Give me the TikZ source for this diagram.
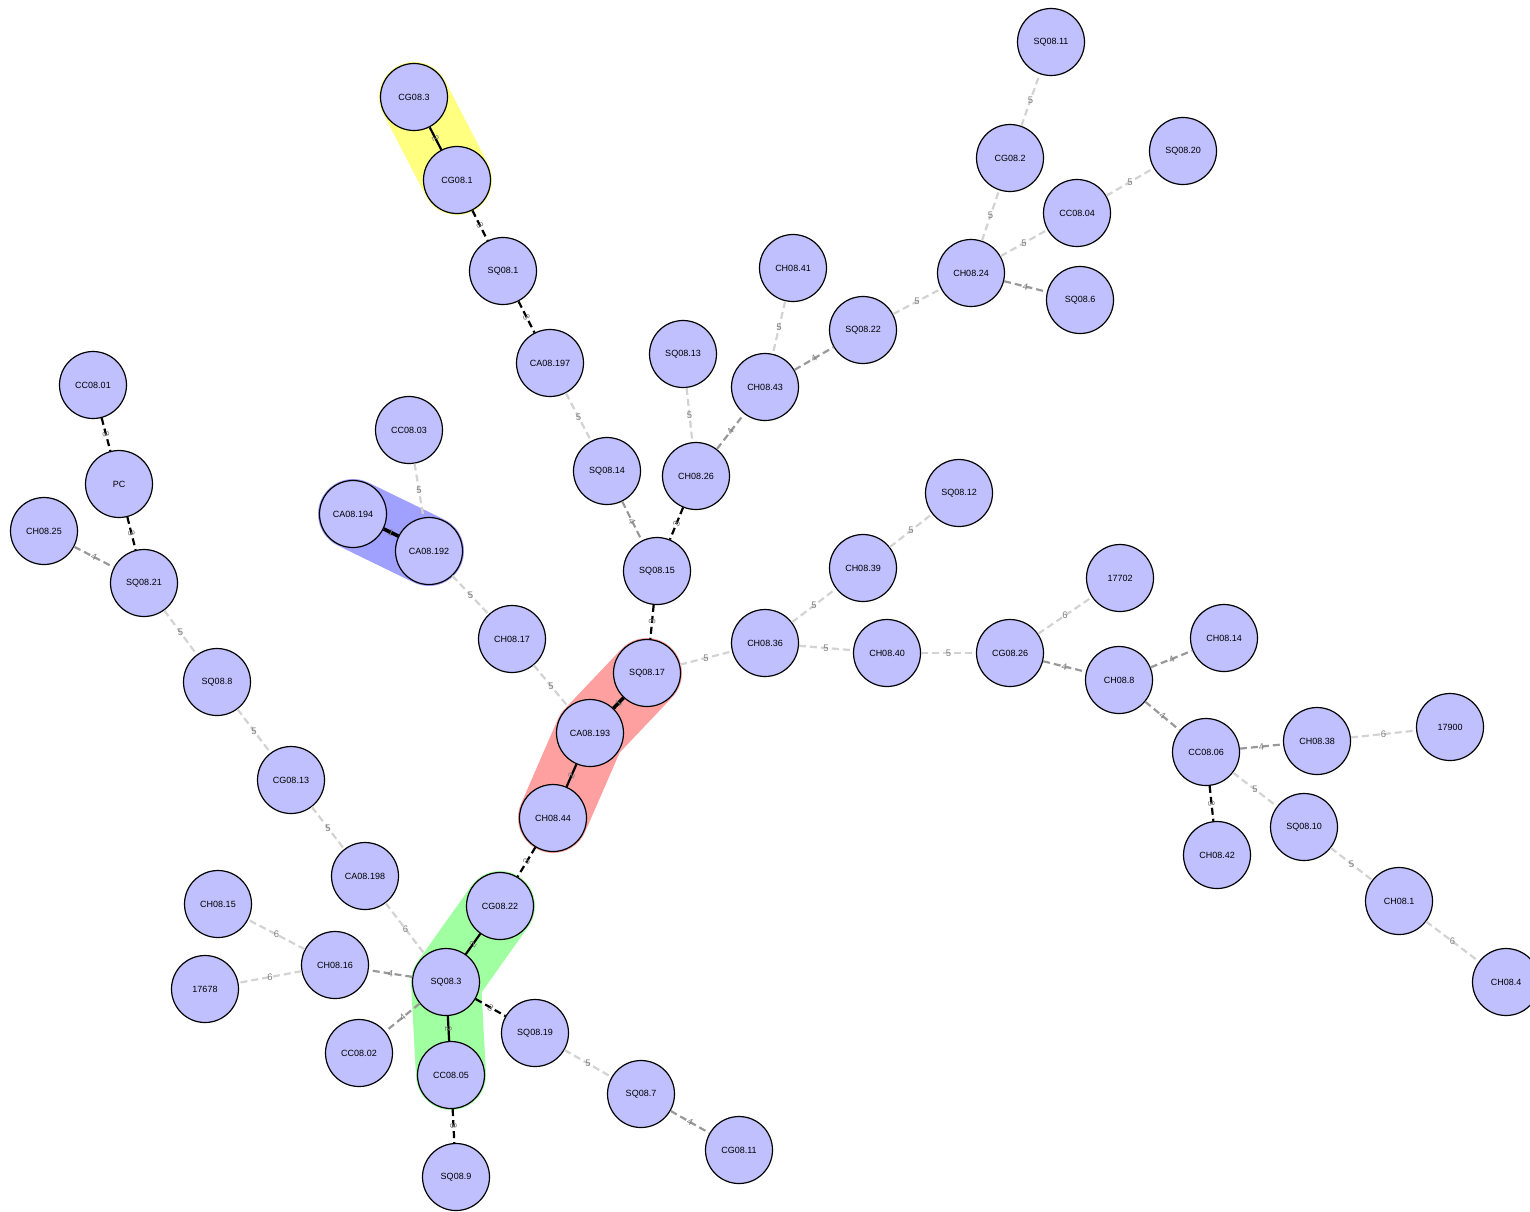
\documentclass[tikz,border=0pt]{standalone}
\usepackage{fontspec}
\setmainfont{Liberation Sans}
\pgfdeclarelayer{background}
\pgfsetlayers{background,main}
\definecolor{nodefill}{RGB}{192,192,255}
\definecolor{hullY}{RGB}{255,255,128}
\definecolor{hullB}{RGB}{160,160,255}
\definecolor{hullR}{RGB}{255,160,160}
\definecolor{hullG}{RGB}{160,255,160}
\definecolor{edgeMid}{RGB}{153,153,153}
\definecolor{edgeLight}{RGB}{211,211,211}
\definecolor{lblcol}{RGB}{128,128,128}
\tikzset{
  nd/.style={circle, draw=black, line width=1.2pt, fill=nodefill, minimum size=67pt, inner sep=0pt, font=\fontsize{9}{10}\selectfont},
  dsh/.style={dash pattern=on 7pt off 4pt},
  e1/.style={draw=black, line width=3.6pt},
  e2/.style={draw=black, line width=2.2pt},
  e3/.style={draw=black, line width=2.2pt, dsh},
  e4/.style={draw=edgeMid, line width=2.2pt, dsh},
  e5/.style={draw=edgeLight, line width=2.2pt, dsh},
  lbl/.style={font=\fontsize{9.5}{10}\selectfont, text=lblcol, inner sep=0pt, midway},
  slbl/.style={lbl, sloped},
  hull/.style={line width=70pt, line cap=round, line join=round},
}
\begin{document}
\begin{tikzpicture}[x=1pt, y=-1pt]
\useasboundingbox (0,0) rectangle (1530,1211);
\clip (0,0) rectangle (1530,1211);
% nodes
\node[nd] (SQ08-11) at (1051,42) {SQ08.11};
\node[nd] (CG08-3) at (414,97) {CG08.3};
\node[nd] (CG08-1) at (457,180) {CG08.1};
\node[nd] (SQ08-20) at (1183,151) {SQ08.20};
\node[nd] (CG08-2) at (1010,158) {CG08.2};
\node[nd] (CC08-04) at (1077,213) {CC08.04};
\node[nd] (SQ08-1) at (503,271) {SQ08.1};
\node[nd] (CH08-41) at (793,268) {CH08.41};
\node[nd] (CH08-24) at (971,273) {CH08.24};
\node[nd] (SQ08-6) at (1080,300) {SQ08.6};
\node[nd] (SQ08-22) at (863,330) {SQ08.22};
\node[nd] (SQ08-13) at (683,354) {SQ08.13};
\node[nd] (CA08-197) at (550,363) {CA08.197};
\node[nd] (CH08-43) at (765,387) {CH08.43};
\node[nd] (CC08-01) at (93,385) {CC08.01};
\node[nd] (CC08-03) at (409,430) {CC08.03};
\node[nd] (SQ08-14) at (607,471) {SQ08.14};
\node[nd] (CH08-26) at (696,476) {CH08.26};
\node[nd] (PC) at (119,484) {PC};
\node[nd] (SQ08-12) at (959,493) {SQ08.12};
\node[nd] (CA08-194) at (353,514) {CA08.194};
\node[nd] (CH08-25) at (44,531) {CH08.25};
\node[nd] (CA08-192) at (429,551) {CA08.192};
\node[nd] (SQ08-21) at (144,583) {SQ08.21};
\node[nd] (SQ08-15) at (657,571) {SQ08.15};
\node[nd] (CH08-39) at (863,568) {CH08.39};
\node[nd] (n17702) at (1120,578) {17702};
\node[nd] (CH08-17) at (512,639) {CH08.17};
\node[nd] (CH08-36) at (765,643) {CH08.36};
\node[nd] (CH08-14) at (1224,638) {CH08.14};
\node[nd] (CH08-40) at (887,653) {CH08.40};
\node[nd] (CG08-26) at (1010,653) {CG08.26};
\node[nd] (SQ08-17) at (647,673) {SQ08.17};
\node[nd] (CH08-8) at (1119,680) {CH08.8};
\node[nd] (SQ08-8) at (217,682) {SQ08.8};
\node[nd] (CA08-193) at (590,733) {CA08.193};
\node[nd] (n17900) at (1450,727) {17900};
\node[nd] (CC08-06) at (1206,752) {CC08.06};
\node[nd] (CH08-38) at (1317,741) {CH08.38};
\node[nd] (CG08-13) at (291,780) {CG08.13};
\node[nd] (CH08-44) at (553,818) {CH08.44};
\node[nd] (SQ08-10) at (1304,827) {SQ08.10};
\node[nd] (CH08-42) at (1217,855) {CH08.42};
\node[nd] (CA08-198) at (365,876) {CA08.198};
\node[nd] (CG08-22) at (500,906) {CG08.22};
\node[nd] (CH08-1) at (1399,901) {CH08.1};
\node[nd] (CH08-15) at (218,904) {CH08.15};
\node[nd] (CH08-16) at (335,965) {CH08.16};
\node[nd] (n17678) at (205,989) {17678};
\node[nd] (SQ08-3) at (446,982) {SQ08.3};
\node[nd] (CH08-4) at (1506,982) {CH08.4};
\node[nd] (SQ08-19) at (535,1033) {SQ08.19};
\node[nd] (CC08-02) at (359,1053) {CC08.02};
\node[nd] (CC08-05) at (451,1075) {CC08.05};
\node[nd] (SQ08-7) at (641,1094) {SQ08.7};
\node[nd] (CG08-11) at (739,1150) {CG08.11};
\node[nd] (SQ08-9) at (456,1177) {SQ08.9};
% hulls
\begin{pgfonlayer}{background}
\draw[hull, hullY] (CG08-3.center) -- (CG08-1.center);
\draw[hull, hullB] (CA08-194.center) -- (CA08-192.center);
\draw[hull, hullR] (SQ08-17.center) -- (CA08-193.center) -- (CH08-44.center);
\draw[hull, hullG] (CG08-22.center) -- (SQ08-3.center) -- (CC08-05.center);
\end{pgfonlayer}
% edges
\draw[e2] (CG08-3) -- node[slbl] {2} (CG08-1);
\draw[e3] (CG08-1) -- node[slbl] {3} (SQ08-1);
\draw[e3] (SQ08-1) -- node[slbl] {3} (CA08-197);
\draw[e5] (CA08-197) -- node[lbl] {5} (SQ08-14);
\draw[e4] (SQ08-14) -- node[slbl] {4} (SQ08-15);
\draw[e5] (SQ08-13) -- node[lbl] {5} (CH08-26);
\draw[e3] (CH08-26) -- node[slbl] {3} (SQ08-15);
\draw[e4] (CH08-26) -- node[slbl] {4} (CH08-43);
\draw[e5] (CH08-41) -- node[lbl] {5} (CH08-43);
\draw[e4] (CH08-43) -- node[slbl] {4} (SQ08-22);
\draw[e5] (SQ08-22) -- node[lbl] {5} (CH08-24);
\draw[e5] (CH08-24) -- node[lbl] {5} (CG08-2);
\draw[e5] (CG08-2) -- node[lbl] {5} (SQ08-11);
\draw[e5] (CH08-24) -- node[lbl] {5} (CC08-04);
\draw[e5] (CC08-04) -- node[lbl] {5} (SQ08-20);
\draw[e4] (CH08-24) -- node[slbl] {4} (SQ08-6);
\draw[e3] (SQ08-15) -- node[slbl] {3} (SQ08-17);
\draw[e1] (SQ08-17) -- node[slbl] {1} (CA08-193);
\draw[e2] (CA08-193) -- node[slbl] {2} (CH08-44);
\draw[e5] (CH08-17) -- node[lbl] {5} (CA08-193);
\draw[e5] (CA08-192) -- node[lbl] {5} (CH08-17);
\draw[e5] (CC08-03) -- node[lbl] {5} (CA08-192);
\draw[e1] (CA08-194) -- node[slbl] {1} (CA08-192);
\draw[e5] (SQ08-17) -- node[lbl] {5} (CH08-36);
\draw[e5] (CH08-36) -- node[lbl] {5} (CH08-39);
\draw[e5] (CH08-39) -- node[lbl] {5} (SQ08-12);
\draw[e5] (CH08-36) -- node[lbl] {5} (CH08-40);
\draw[e5] (CH08-40) -- node[lbl] {5} (CG08-26);
\draw[e5] (CG08-26) -- node[lbl] {6} (n17702);
\draw[e4] (CG08-26) -- node[slbl] {4} (CH08-8);
\draw[e4] (CH08-8) -- node[slbl] {4} (CH08-14);
\draw[e4] (CH08-8) -- node[slbl] {4} (CC08-06);
\draw[e4] (CC08-06) -- node[slbl] {4} (CH08-38);
\draw[e5] (CH08-38) -- node[lbl] {6} (n17900);
\draw[e3] (CC08-06) -- node[slbl] {3} (CH08-42);
\draw[e5] (CC08-06) -- node[lbl] {5} (SQ08-10);
\draw[e5] (SQ08-10) -- node[lbl] {5} (CH08-1);
\draw[e5] (CH08-1) -- node[lbl] {6} (CH08-4);
\draw[e3] (CH08-44) -- node[slbl] {3} (CG08-22);
\draw[e2] (CG08-22) -- node[slbl] {2} (SQ08-3);
\draw[e2] (SQ08-3) -- node[slbl] {2} (CC08-05);
\draw[e3] (CC08-05) -- node[slbl] {3} (SQ08-9);
\draw[e3] (SQ08-3) -- node[slbl] {3} (SQ08-19);
\draw[e5] (SQ08-19) -- node[lbl] {5} (SQ08-7);
\draw[e4] (SQ08-7) -- node[slbl] {4} (CG08-11);
\draw[e4] (SQ08-3) -- node[slbl] {4} (CC08-02);
\draw[e4] (SQ08-3) -- node[slbl] {4} (CH08-16);
\draw[e5] (CH08-16) -- node[lbl] {6} (CH08-15);
\draw[e5] (CH08-16) -- node[lbl] {6} (n17678);
\draw[e5] (CA08-198) -- node[lbl] {6} (SQ08-3);
\draw[e5] (CG08-13) -- node[lbl] {5} (CA08-198);
\draw[e5] (SQ08-8) -- node[lbl] {5} (CG08-13);
\draw[e5] (SQ08-21) -- node[lbl] {5} (SQ08-8);
\draw[e4] (CH08-25) -- node[slbl] {4} (SQ08-21);
\draw[e3] (PC) -- node[slbl] {3} (SQ08-21);
\draw[e3] (CC08-01) -- node[slbl] {3} (PC);
\end{tikzpicture}
\end{document}
